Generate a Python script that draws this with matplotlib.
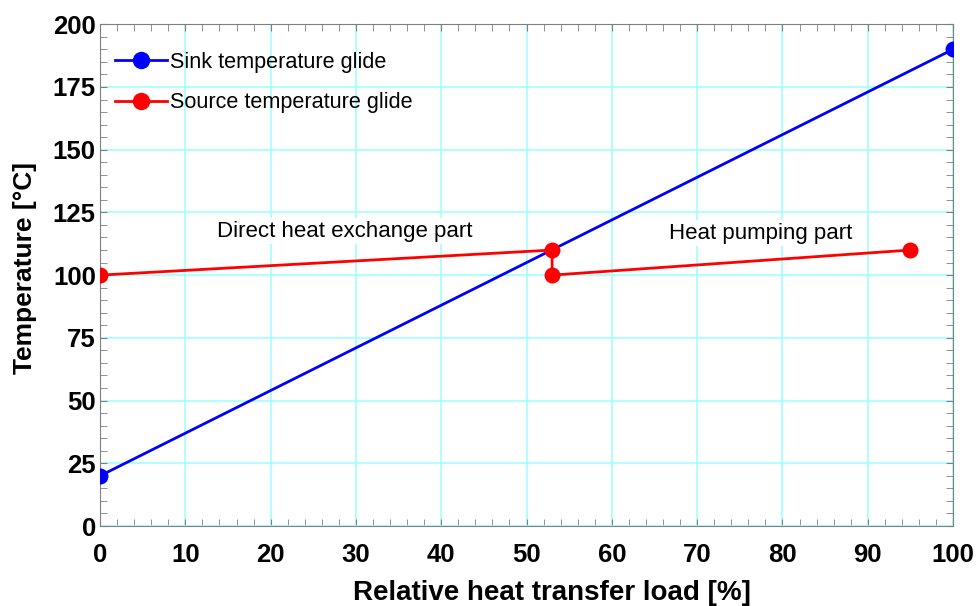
import matplotlib
matplotlib.use("Agg")
import matplotlib.pyplot as plt
from matplotlib.lines import Line2D
from matplotlib.ticker import MultipleLocator

plt.rcParams["font.family"] = ["Liberation Sans", "DejaVu Sans"]

# sink: linear glide from inlet to outlet
sink_x = [0, 100]
sink_y = [20, 190]
# source: direct exchange part, then jump, then heat pumping part
src_x = [0, 53, 53, 95]
src_y = [100, 110, 100, 110]

BLUE, RED = "#0000ff", "#ff0000"

fig = plt.figure(figsize=(9.76, 6.06), dpi=100)
ax = fig.add_axes([0.1025, 0.132, 0.874, 0.828])

# lines + markers drawn separately so markers get clipped at the frame
ax.plot(sink_x, sink_y, color=BLUE, lw=2, zorder=3)
ax.plot(src_x, src_y, color=RED, lw=2, zorder=3)
ax.scatter(sink_x, sink_y, s=11.5**2, color=BLUE, zorder=4, linewidths=0)
ax.scatter(src_x, src_y, s=11.5**2, color=RED, zorder=4, linewidths=0)

ax.set_xlim(0, 100)
ax.set_ylim(0, 200)
ax.xaxis.set_major_locator(MultipleLocator(10))
ax.xaxis.set_minor_locator(MultipleLocator(2))
ax.yaxis.set_major_locator(MultipleLocator(25))
ax.yaxis.set_minor_locator(MultipleLocator(5))
ax.grid(True, which="major", color="#a0ffff", lw=1.2)
ax.set_axisbelow(True)

ax.tick_params(which="both", direction="in", top=True, right=True,
               color="#808080", labelsize=18.5, length=5)
ax.tick_params(axis="x", pad=12)
ax.tick_params(axis="y", pad=3)
for lab in ax.get_xticklabels() + ax.get_yticklabels():
    lab.set_fontweight("bold")
for s in ax.spines.values():
    s.set_color("#808080")

ax.set_xlabel("Relative heat transfer load [%]", fontsize=20, fontweight="bold")
ax.set_ylabel("Temperature [°C]", fontsize=19, fontweight="bold")
ax.xaxis.set_label_coords(0.53, -0.108)
ax.yaxis.set_label_coords(-0.074, 0.515)

ax.text(28.7, 117.5, "Direct heat exchange part", fontsize=16, ha="center", va="center",
        bbox=dict(facecolor="white", edgecolor="none", pad=2), zorder=2)
ax.text(77.5, 116.7, "Heat pumping part", fontsize=16, ha="center", va="center",
        bbox=dict(facecolor="white", edgecolor="none", pad=2), zorder=2)

handles = [
    Line2D([], [], color=BLUE, lw=2, marker="o", ms=11.5, label="Sink temperature glide"),
    Line2D([], [], color=RED, lw=2, marker="o", ms=11.5, label="Source temperature glide"),
]
ax.legend(handles=handles, loc="upper left", fontsize=15.6, frameon=False,
          handlelength=2.4, bbox_to_anchor=(0.0176, 0.945), labelspacing=0.9,
          handletextpad=0.15, borderaxespad=0, borderpad=0)

fig.savefig("out.png", dpi=100)
